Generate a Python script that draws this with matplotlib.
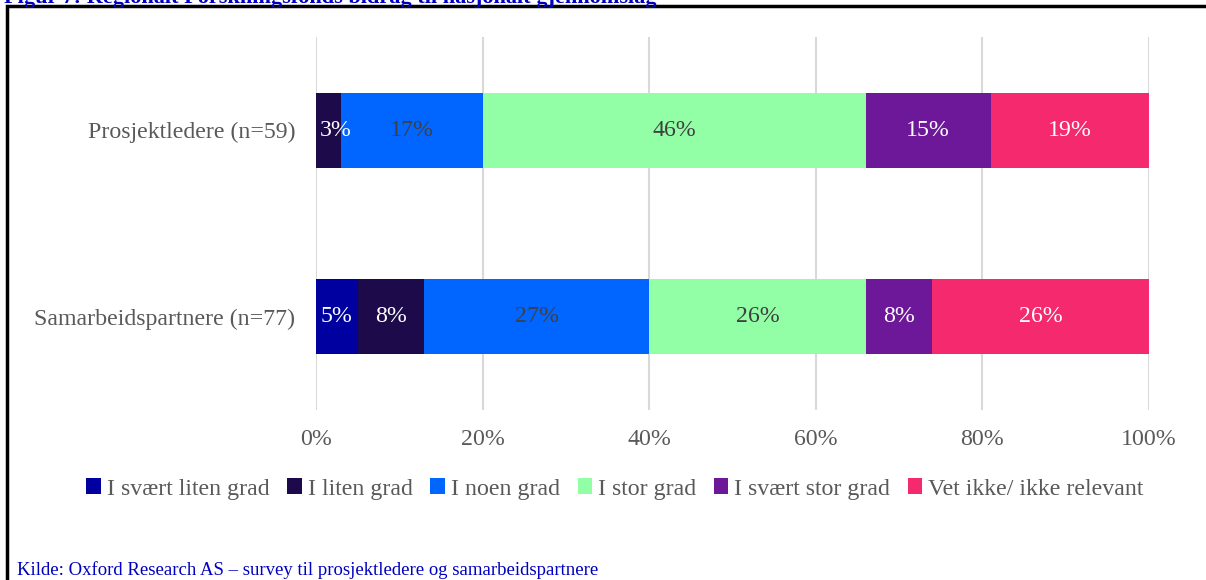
import numpy as np
import matplotlib.pyplot as plt
from matplotlib.patches import Rectangle

plt.rcParams['font.family'] = ['Liberation Serif', 'DejaVu Serif']

# Svarfordeling i prosent per gruppe
grupper = ["Samarbeidspartnere (n=77)", "Prosjektledere (n=59)"]
kategorier = ["I svært liten grad", "I liten grad", "I noen grad",
              "I stor grad", "I svært stor grad", "Vet ikke/ ikke relevant"]
samarbeid = [5, 8, 27, 26, 8, 26]
prosjekt = [0, 3, 17, 46, 15, 19]

farger = ["#0000A0", "#1C0A4B", "#0066FF", "#92FFA6", "#6D1799", "#F4296E"]
tekstfarger = ["white", "white", "#404040", "#404040", "white", "white"]

verdier = np.array([samarbeid, prosjekt])
fs = 17.2

fig = plt.figure(figsize=(12.06, 5.8), dpi=100)
ax = fig.add_axes([316/1206, 1 - 410/580, (1149 - 316)/1206, 373/580])

y = np.arange(len(grupper))
venstre = np.zeros(len(grupper))
for i, kat in enumerate(kategorier):
    v = verdier[:, i]
    ax.barh(y, v, left=venstre, height=0.4, color=farger[i], label=kat, zorder=3)
    for j in range(len(grupper)):
        if v[j] == 0:
            continue
        if venstre[j] == 0 and v[j] < 4:
            # smal første stolpe: teksten starter ved venstre kant
            ax.text(0.5, y[j], f"{v[j]}%", ha="left", va="center",
                    fontsize=fs, color=tekstfarger[i], zorder=4)
        else:
            ax.text(venstre[j] + v[j] / 2, y[j], f"{v[j]}%", ha="center", va="center",
                    fontsize=fs, color=tekstfarger[i], zorder=4)
    venstre += v

ax.set_xlim(0, 100)
ax.set_ylim(-0.5, 1.5)
ax.set_xticks(np.arange(0, 101, 20))
ax.set_xticklabels([f"{t}%" for t in range(0, 101, 20)])
ax.set_yticks(y)
ax.set_yticklabels(grupper)
ax.tick_params(axis="both", length=0, labelsize=fs, labelcolor="#595959")
ax.tick_params(axis="x", pad=14)
ax.tick_params(axis="y", pad=15)
ax.grid(axis="x", color="#D9D9D9", linewidth=1.5, zorder=0)
for s in ax.spines.values():
    s.set_visible(False)

leg = ax.legend(loc="center", bbox_to_anchor=(615/1206, 1 - 489/580),
                bbox_transform=fig.transFigure, ncol=6, frameon=False, fontsize=fs,
                handlelength=0.6, handleheight=0.6, handletextpad=0.25, columnspacing=0.75)
for t in leg.get_texts():
    t.set_color("#595959")

# ramme rundt figuren
fig.patches.append(Rectangle((7/1206, -0.1), 1.2, 1 - 6/580 + 0.1, transform=fig.transFigure,
                             fill=False, edgecolor="black", linewidth=2.5))

fig.text(4/1206, 1 - 3/580, "Figur 7: Regionalt Forskningsfonds bidrag til nasjonalt gjennomslag",
         ha="left", va="baseline", fontsize=16, fontweight="bold", color="#0000C0")
fig.text(17/1206, 1 - 570/580, "Kilde: Oxford Research AS – survey til prosjektledere og samarbeidspartnere",
         ha="left", va="center", fontsize=13.5, color="#0000C0")

fig.savefig("out.png", dpi=100)
